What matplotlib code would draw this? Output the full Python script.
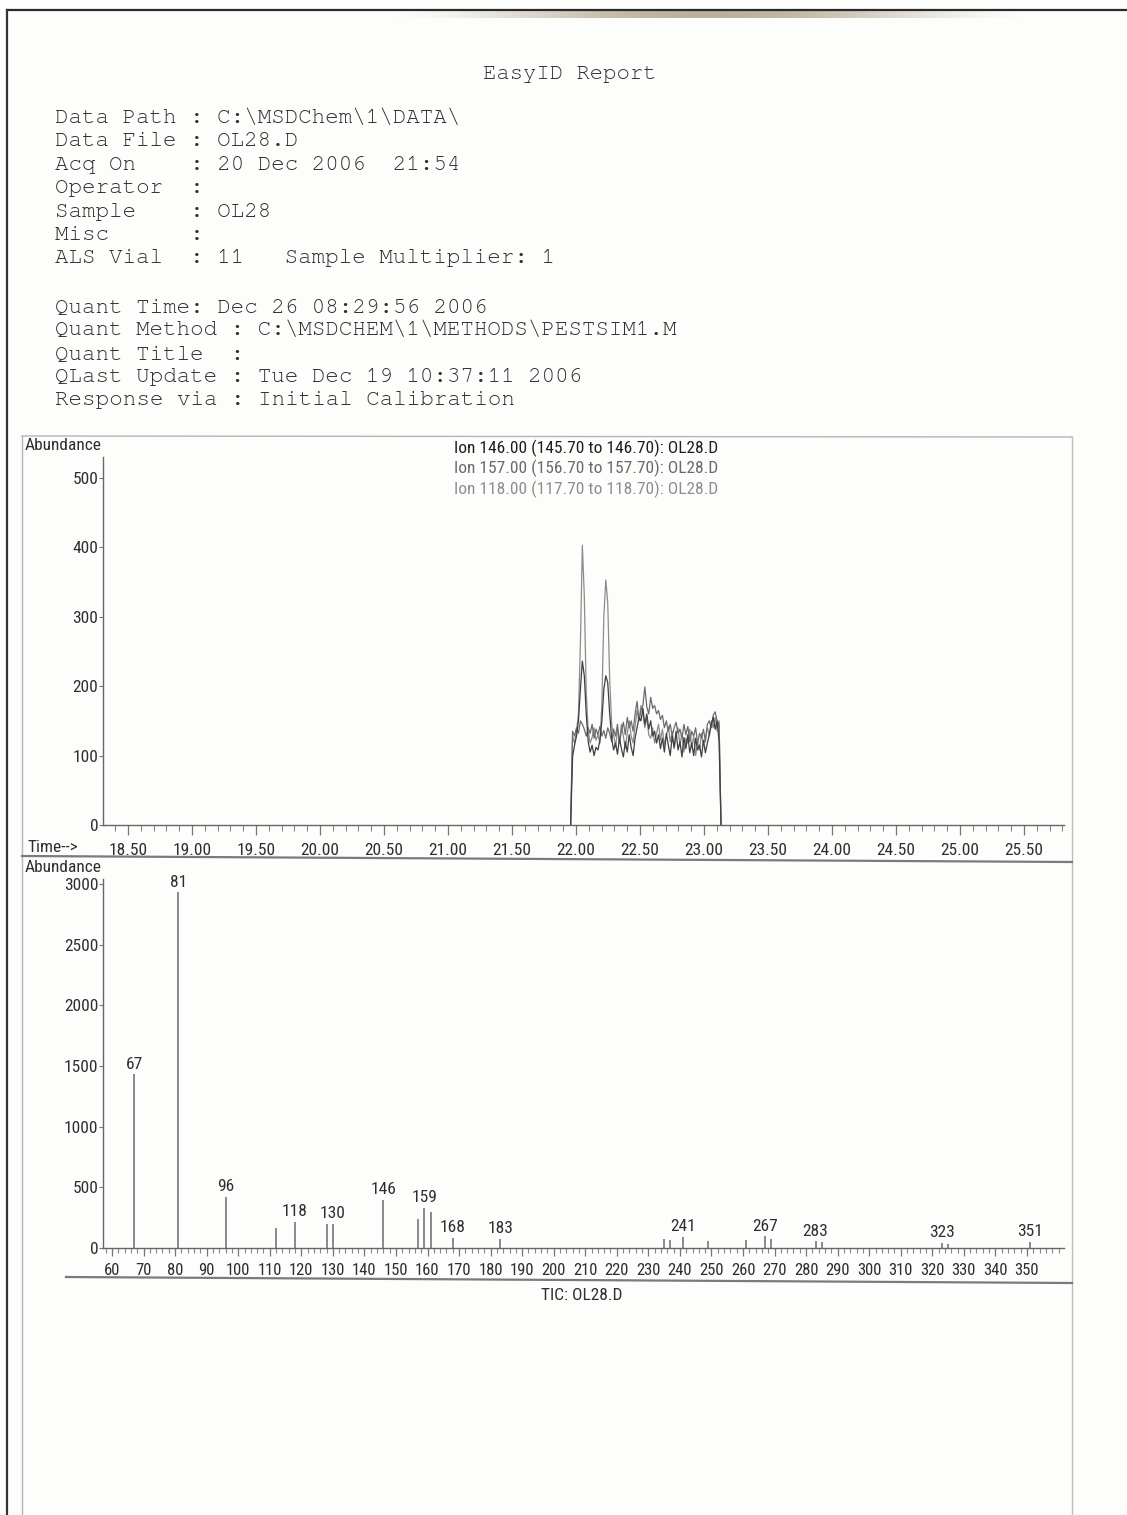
import numpy as np
import matplotlib
matplotlib.use("Agg")
import matplotlib.pyplot as plt
from matplotlib import font_manager
from matplotlib.font_manager import FontProperties
from matplotlib.ticker import FixedLocator, MultipleLocator

# ---------------- report header ----------------
report_title = "EasyID Report"
header_block1 = [
    "Data Path : C:\\MSDChem\\1\\DATA\\",
    "Data File : OL28.D",
    "Acq On    : 20 Dec 2006  21:54",
    "Operator  :",
    "Sample    : OL28",
    "Misc      :",
    "ALS Vial  : 11   Sample Multiplier: 1",
]
header_block2 = [
    "Quant Time: Dec 26 08:29:56 2006",
    "Quant Method : C:\\MSDCHEM\\1\\METHODS\\PESTSIM1.M",
    "Quant Title  :",
    "QLast Update : Tue Dec 19 10:37:11 2006",
    "Response via : Initial Calibration",
]

# ---------------- extracted ion chromatograms ----------------
ion_labels = [
    "Ion 146.00 (145.70 to 146.70): OL28.D",
    "Ion 157.00 (156.70 to 157.70): OL28.D",
    "Ion 118.00 (117.70 to 118.70): OL28.D",
]
scan_start, scan_end = 21.958, 23.133   # SIM window (min)

ion146 = [0, 98, 115, 128, 150, 195, 236, 215, 160, 120,
          105, 115, 100, 112, 108, 122, 150, 195, 215, 205,
          160, 125, 108, 118, 102, 125, 110, 98, 120, 105,
          130, 112, 100, 125, 140, 155, 150, 168, 145, 160,
          138, 150, 128, 135, 118, 130, 110, 125, 105, 132,
          115, 100, 128, 112, 135, 108, 120, 98, 126, 110,
          130, 104, 118, 100, 125, 108, 115, 98, 122, 104,
          118, 130, 145, 155, 138, 150, 120, 0]
ion157 = [0, 135, 128, 140, 132, 150, 145, 138, 128, 140,
          132, 145, 125, 138, 130, 142, 128, 136, 125, 140,
          132, 120, 138, 128, 145, 118, 135, 148, 130, 155,
          140, 150, 135, 160, 178, 150, 165, 172, 199, 170,
          160, 184, 168, 172, 160, 165, 152, 158, 140, 150,
          135, 145, 128, 140, 148, 132, 138, 125, 145, 130,
          142, 120, 135, 128, 140, 118, 132, 125, 138, 120,
          145, 150, 140, 158, 163, 150, 145, 0]
ion118 = [0, 128, 118, 135, 160, 260, 403, 330, 190, 135,
          118, 126, 140, 122, 130, 118, 175, 300, 353, 320,
          210, 145, 130, 112, 138, 120, 145, 128, 110, 132,
          150, 128, 118, 142, 165, 150, 172, 160, 140, 155,
          130, 125, 140, 118, 132, 145, 122, 138, 115, 128,
          142, 120, 135, 110, 128, 140, 115, 132, 105, 125,
          118, 138, 112, 128, 100, 120, 108, 132, 115, 125,
          140, 128, 150, 140, 155, 135, 150, 0]
ion_colors = ["#404040", "#6c6c6c", "#8c8c8c"]
legend_colors = ["#1e1e1e", "#6a6a6a", "#8e8e8e"]

time_ticks = [18.50, 19.00, 19.50, 20.00, 20.50, 21.00, 21.50, 22.00,
              22.50, 23.00, 23.50, 24.00, 24.50, 25.00, 25.50]
abund_ticks_top = [0, 100, 200, 300, 400, 500]

# ---------------- mass spectrum (TIC) ----------------
mz = [67, 81, 96, 112, 118, 128, 130, 146, 157, 159, 161, 168, 183,
      235, 237, 241, 249, 261, 267, 269, 283, 285, 323, 325, 351]
abundance = [1430, 2930, 420, 165, 215, 200, 200, 395, 240, 330, 300, 85, 78,
             72, 64, 92, 55, 70, 95, 72, 55, 48, 40, 34, 48]
labelled_mz = [67, 81, 96, 118, 130, 146, 159, 168, 183, 241, 267, 283, 323, 351]
mz_ticks = list(range(60, 360, 10))
abund_ticks_ms = [0, 500, 1000, 1500, 2000, 2500, 3000]


# ---------------- fonts ----------------
def pick_regular_file(families):
    """First installed regular-weight upright face among the given families."""
    entries = font_manager.fontManager.ttflist
    for fam in families:
        for f in entries:
            if (f.name == fam and f.style == "normal"
                    and str(f.weight) in ("400", "normal", "regular")):
                return f.fname
    return None


NARROW_FILE = pick_regular_file(["Liberation Sans Narrow", "Arial Narrow",
                                 "Roboto Condensed", "PT Sans Narrow",
                                 "Archivo Narrow", "Fira Sans Condensed"])
MONO_FILE = pick_regular_file(["Nimbus Mono PS", "Nimbus Mono L", "FreeMono",
                               "Courier Prime", "Liberation Mono"])


def nfont(size):
    if NARROW_FILE:
        return FontProperties(fname=NARROW_FILE, size=size)
    return FontProperties(family=["Liberation Sans", "DejaVu Sans"], size=size * 0.92)


def mfont(size):
    if MONO_FILE:
        return FontProperties(fname=MONO_FILE, size=size)
    return FontProperties(family=["Liberation Mono", "DejaVu Sans Mono"], size=size)


LBL = 12.5   # axis numbers, axis captions, peak labels
MZL = 12.0   # m/z tick numbers
LEG = 12.5   # ion trace captions

# ---------------- figure ----------------
W, H = 1127, 1515
fig = plt.figure(figsize=(W / 100, H / 100), dpi=100)
fig.patch.set_facecolor("#fdfdfc")
TXT = "#2e2e2e"


def rect(x0, y_top, x1, y_bot):
    return [x0 / W, 1 - y_bot / H, (x1 - x0) / W, (y_bot - y_top) / H]


# page overlay in pixel coordinates
page = fig.add_axes([0, 0, 1, 1], zorder=0)
page.set_xlim(0, W)
page.set_ylim(H, 0)
page.axis("off")

# scanner shadow along the top edge
shade = np.zeros((1, 400, 4))
shade[..., :3] = np.array([0.42, 0.31, 0.16])
xs = np.linspace(-1, 1, 400)
shade[0, :, 3] = 0.45 * np.clip(1 - xs ** 2, 0, 1) ** 2
page.imshow(shade, extent=[380, 1040, 18, 11], aspect="auto", interpolation="bilinear")

page.plot([7, W], [10, 10], color="#2a2a2a", lw=1.6)
page.plot([7, 7], [10, H], color="#333333", lw=1.6)
page.plot([22, 1072], [436, 437], color="#b5b5b5", lw=1.0)
page.plot([22, 22], [436, H], color="#b5b5b5", lw=1.0)
page.plot([1072, 1072], [437, H], color="#bdbdbd", lw=1.0)
page.plot([22, 1072], [856, 862], color="#7a7a7a", lw=1.6)
page.plot([66, 1072], [1277, 1283], color="#7a7a7a", lw=1.6)

# header text
page.text(570, 74, report_title, fontproperties=mfont(16), color=TXT,
          ha="center", va="center")
for k, line in enumerate(header_block1):
    page.text(55, 118 + 23.4 * k, line, fontproperties=mfont(16.2),
              color=TXT, ha="left", va="center")
for k, line in enumerate(header_block2):
    page.text(55, 307 + 23.3 * k, line, fontproperties=mfont(16.2),
              color=TXT, ha="left", va="center")

# ---------------- chromatogram panel ----------------
ax1 = fig.add_axes(rect(103, 457, 1064, 825), zorder=2)
ax1.patch.set_alpha(0)
t_scan = np.linspace(scan_start, scan_end, len(ion146))
for series, col in zip([ion118, ion157, ion146], ion_colors[::-1]):
    ax1.plot(t_scan, series, color=col, lw=0.9)
ax1.set_xlim(18.5 + (103 - 128) / 128, 18.5 + (1064 - 128) / 128)
ax1.set_ylim(0, 530)
for s in ("top", "right"):
    ax1.spines[s].set_visible(False)
for s in ("left", "bottom"):
    ax1.spines[s].set_color("#666666")
    ax1.spines[s].set_linewidth(1.0)
ax1.xaxis.set_major_locator(FixedLocator(time_ticks))
ax1.xaxis.set_minor_locator(MultipleLocator(0.1))
ax1.set_xticklabels([f"{t:.2f}" for t in time_ticks])
ax1.yaxis.set_major_locator(FixedLocator(abund_ticks_top))
ax1.set_yticklabels([str(v) for v in abund_ticks_top])
ax1.tick_params(axis="x", which="major", direction="out", length=7, width=0.9,
                color="#777777", pad=6, labelcolor=TXT)
ax1.tick_params(axis="x", which="minor", direction="out", length=4, width=0.8,
                color="#888888")
ax1.tick_params(axis="y", which="major", direction="out", length=3, width=0.8,
                color="#777777", pad=0.5, labelcolor=TXT)
for lab in ax1.get_xticklabels() + ax1.get_yticklabels():
    lab.set_fontproperties(nfont(LBL))

page.text(25, 446, "Abundance", fontproperties=nfont(LBL), color=TXT,
          ha="left", va="center")
page.text(27, 848, "Time-->", fontproperties=nfont(LBL), color=TXT,
          ha="left", va="center")
for k, (lab, col) in enumerate(zip(ion_labels, legend_colors)):
    page.text(454, 448 + 20.5 * k, lab, fontproperties=nfont(LEG),
              color=col, ha="left", va="center")

# ---------------- mass spectrum panel ----------------
ax2 = fig.add_axes(rect(103, 879, 1064, 1248), zorder=2)
ax2.patch.set_alpha(0)
ax2.vlines(mz, 0, abundance, color="#6a6a6a", lw=1.1)
for m in labelled_mz:
    a = abundance[mz.index(m)]
    ax2.annotate(str(m), (m, a), xytext=(0, 2), textcoords="offset points",
                 ha="center", va="bottom", color=TXT, fontproperties=nfont(LBL))
ax2.set_xlim(60 + (103 - 112) / 3.155, 60 + (1064 - 112) / 3.155)
ax2.set_ylim(0, 3040)
for s in ("top", "right"):
    ax2.spines[s].set_visible(False)
for s in ("left", "bottom"):
    ax2.spines[s].set_color("#666666")
    ax2.spines[s].set_linewidth(1.0)
ax2.xaxis.set_major_locator(FixedLocator(mz_ticks))
ax2.xaxis.set_minor_locator(MultipleLocator(2))
ax2.set_xticklabels([str(v) for v in mz_ticks])
ax2.yaxis.set_major_locator(FixedLocator(abund_ticks_ms))
ax2.set_yticklabels([str(v) for v in abund_ticks_ms])
ax2.tick_params(axis="x", which="major", direction="out", length=6, width=0.9,
                color="#777777", pad=5, labelcolor=TXT)
ax2.tick_params(axis="x", which="minor", direction="out", length=3.5, width=0.8,
                color="#888888")
ax2.tick_params(axis="y", which="major", direction="out", length=3, width=0.8,
                color="#777777", pad=0.5, labelcolor=TXT)
for lab in ax2.get_xticklabels():
    lab.set_fontproperties(nfont(MZL))
for lab in ax2.get_yticklabels():
    lab.set_fontproperties(nfont(LBL))

page.text(25, 867, "Abundance", fontproperties=nfont(LBL), color=TXT,
          ha="left", va="center")
page.text(582, 1295, "TIC: OL28.D", fontproperties=nfont(LBL), color=TXT,
          ha="center", va="center")

fig.savefig("out.png", dpi=100, facecolor=fig.get_facecolor())
